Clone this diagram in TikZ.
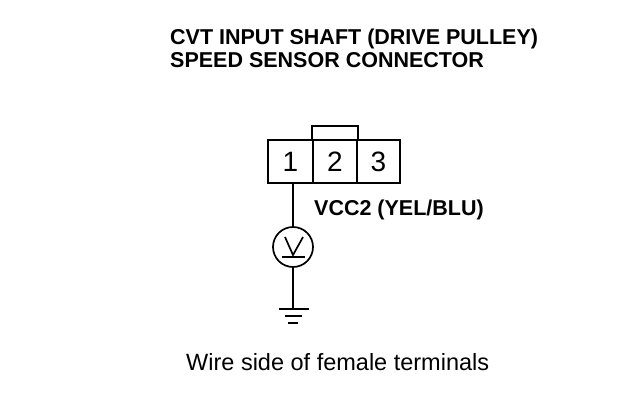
\documentclass[tikz,border=0pt]{standalone}
\usepackage{fontspec}
\setmainfont{Liberation Sans}
\tikzset{
  ln/.style={draw=black,line width=1.7pt},
  pinbox/.style={ln,minimum height=43pt,inner sep=0pt,font=\fontsize{28}{28}\selectfont},
  bold/.style={font=\bfseries\fontsize{21.5}{23}\selectfont,inner sep=0pt,anchor=west}
}
\begin{document}
\begin{tikzpicture}[x=1pt,y=-1pt]
\useasboundingbox (0,0) rectangle (624,412);
\fill[white] (0,0) rectangle (624,412);
\node[bold] (t1) at (170,39) {CVT INPUT SHAFT (DRIVE PULLEY)};
\node[bold] (t2) at (170,60) {SPEED SENSOR CONNECTOR};
\node[pinbox,minimum width=45pt] (p1) at (290.5,161.5) {1};
\node[pinbox,minimum width=44pt] (p2) at (335,161.5) {2};
\node[pinbox,minimum width=43pt] (p3) at (378.5,161.5) {3};
\draw[ln] (p2.north west) -- ++(0,-13) -| (p2.north east);
\node[bold] (l) at (314,210) {VCC2 (YEL/BLU)};
\node[circle,ln,minimum size=40pt,inner sep=0pt] (v) at (293,247) {};
\coordinate (a) at (293,183);
\draw[ln] (a) -- (v.north);
\draw[ln] (285,237) -- (293,255) -- (303,237);
\draw[ln] (282,257) -- (305,257);
\coordinate (g) at (293,309);
\draw[ln] (v.south) -- (g);
\draw[ln] (279,309) -- (309,309);
\draw[ln] (285,316) -- (302,316);
\draw[ln] (288,323) -- (298,323);
\node[font=\fontsize{23.5}{25}\selectfont,inner sep=0pt,anchor=west] (c) at (186,362) {Wire side of female terminals};
\end{tikzpicture}
\end{document}
